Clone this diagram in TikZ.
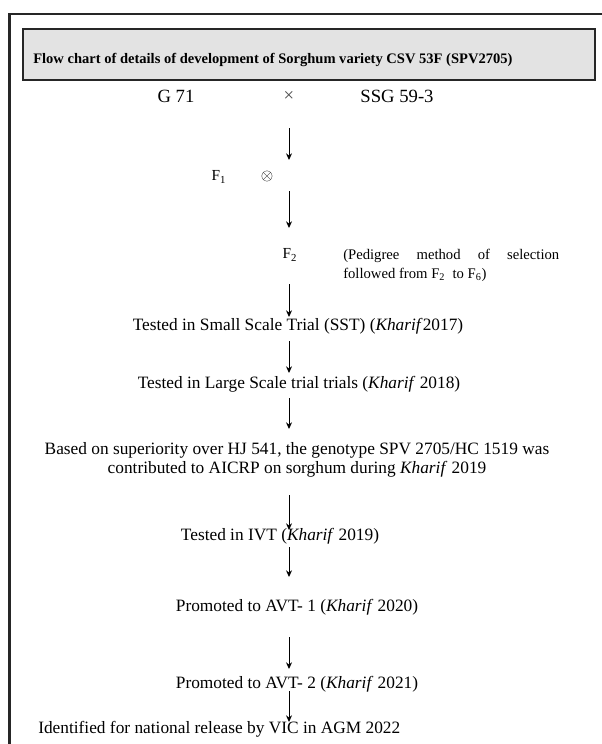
\documentclass[tikz,border=0pt]{standalone}
\usepackage{fontspec}
\setmainfont{Liberation Serif}
\usetikzlibrary{arrows.meta}

\begin{document}
\begin{tikzpicture}[x=0.75pt,y=-0.75pt,
  frame/.style={line width=2.2pt, black!85},
  titlebox/.style={draw=black!85, line width=2pt, fill=black!11},
  row/.style={inner sep=0pt, font=\fontsize{13}{16}\selectfont},
  cross/.style={inner sep=0pt, font=\fontsize{14}{17}\selectfont},
  gen/.style={inner sep=0pt, font=\fontsize{11.5}{14}\selectfont},
  arr/.style={line width=0.75pt, -{Stealth[length=5pt,width=4.5pt]}}]

  \useasboundingbox (0,0) rectangle (602,744);

  % --- Frame and heading ---
  \draw[frame] (9.5,744) -- (9.5,14) -- (602,14);
  \draw[titlebox] (23,29) rectangle (595,80);
  \node[anchor=west, inner sep=0pt, font=\fontsize{10.9}{13}\selectfont\bfseries] (title) at (33,60)
    {Flow chart of details of development of Sorghum variety CSV 53F (SPV2705)};

  % --- Parents ---
  \node[cross] (g71) at (176,96) {G 71};
  \node[cross, text=black!70] (times) at (289,96) {×};
  \node[cross] (ssg) at (397,96) {SSG 59-3};

  % --- Generations ---
  \node[gen] (f1) at (219,177) {F\textsubscript{1}};
  \node[gen] (selfing) at (267,176) {$\otimes$};
  \node[gen] (f2) at (290,255) {F\textsubscript{2}};
  \node[gen, anchor=north west, text width=162pt, align=justify, font=\fontsize{11}{14.25}\selectfont] (pedigree) at (343,249)
    {(Pedigree method of selection\linebreak followed from F\textsubscript{2}~ to F\textsubscript{6})};

  % --- Trials ---
  \node[row] (sst) at (298,326) {Tested in Small Scale Trial (SST) (\textit{Kharif}2017)};
  \node[row] (large) at (299,384) {Tested in Large Scale trial trials (\textit{Kharif} 2018)};
  \node[row, align=center, font=\fontsize{13}{14.5}\selectfont] (based) at (297,460)
    {Based on superiority over HJ 541, the genotype SPV 2705/HC 1519 was\\
     contributed to AICRP on sorghum during \textit{Kharif} 2019};
  \node[row] (ivt) at (280,536) {Tested in IVT (\textit{Kharif} 2019)};
  \node[row] (avtone) at (297,607) {Promoted to AVT- 1 (\textit{Kharif} 2020)};
  \node[row] (avttwo) at (297,684) {Promoted to AVT- 2 (\textit{Kharif} 2021)};
  \node[row, anchor=west] (ident) at (38,729) {Identified for national release by VIC in AGM 2022};

  % --- Arrows down the stem ---
  \coordinate (stem) at (289,0);
  \foreach \a/\b/\s/\e in {times/f1/32/17, f1/f2/14/27, f2/sst/29/9, sst/large/15/11,
      large/based/14/31, based/ivt/35/6, ivt/avtone/11/30, avtone/avttwo/30/15, avttwo/ident/7/7}
    \draw[arr, shorten <=\s*0.75pt, shorten >=\e*0.75pt] (stem |- \a) -- (stem |- \b);

\end{tikzpicture}
\end{document}
